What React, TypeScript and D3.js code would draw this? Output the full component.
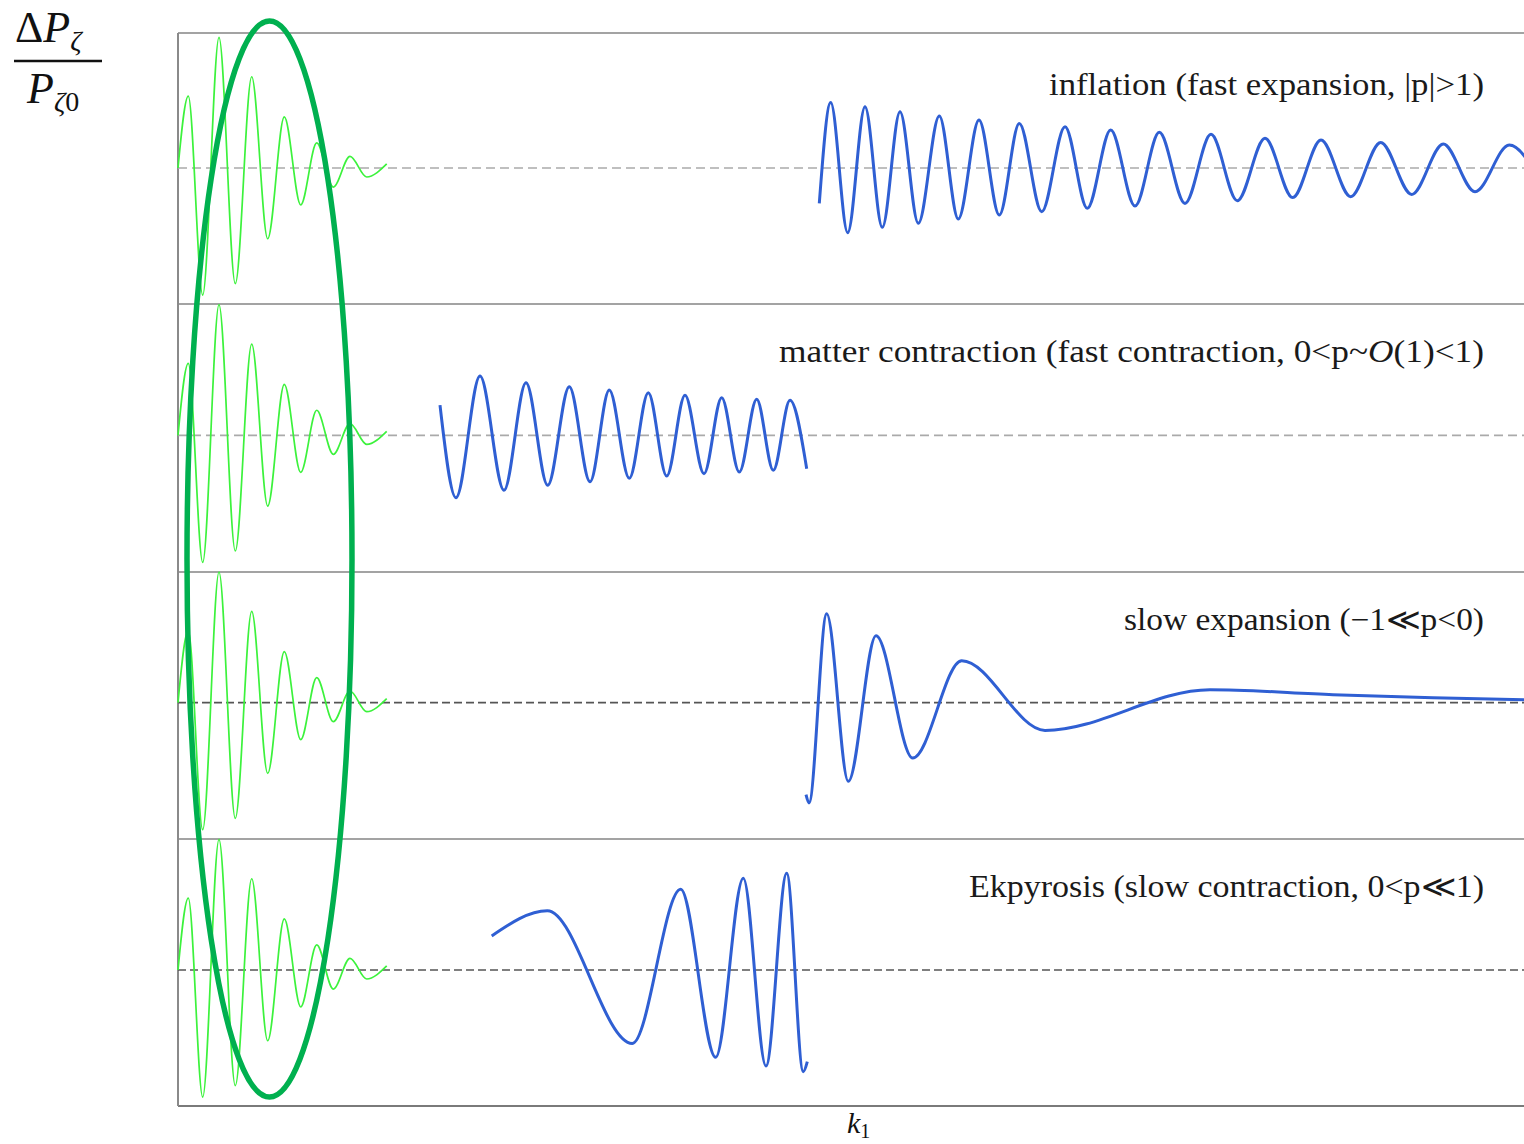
import * as d3 from 'd3'

// panel captions, top to bottom
const panelLabels = [
  'inflation (fast expansion, |p|>1)',
  'matter contraction (fast contraction, 0<p~',
  'slow expansion (\u22121\u226Ap<0)',
  'Ekpyrosis (slow contraction, 0<p\u226A1)',
]
const labelWidths = [435, 705, 360, 515]

// green reference oscillation (same in every panel)
const greenK = [0, 1.03, 2.47, 4.1, 5.73, 7.37, 8.97, 10.63, 12.27, 13.87, 15.53, 17.2, 18.87, 20.87]
const greenAmp = [0, 0.537, -0.948, 0.975, -0.863, 0.681, -0.528, 0.381, -0.276, 0.187, -0.142, 0.087, -0.067, 0.03]

// inflation
const inflationK = [64.13, 65.27, 66.97, 68.7, 70.43, 72.2, 74.03, 76.13, 78.03, 80.1, 82.13, 84.13, 86.37, 88.7,
  90.93, 93.27, 95.7, 98.13, 100.7, 103.3, 105.93, 108.7, 111.47, 114.3, 117.27, 120.27, 123.37, 126.53, 129.7,
  133.13, 136.6]
const inflationAmp = [-0.264, 0.488, -0.483, 0.457, -0.443, 0.42, -0.413, 0.388, -0.381, 0.358, -0.351, 0.333,
  -0.326, 0.308, -0.301, 0.284, -0.284, 0.266, -0.264, 0.251, -0.244, 0.222, -0.221, 0.209, -0.214, 0.191,
  -0.197, 0.179, -0.177, 0.172, -0.17]

// matter contraction
const matterK = [26.2, 27.8, 30.2, 32.6, 34.8, 36.97, 39.13, 41.2, 43.13, 45.13, 47.03, 48.87, 50.7, 52.6,
  54.37, 56.13, 57.87, 59.53, 61.2, 62.87]
const matterAmp = [0.226, -0.465, 0.442, -0.41, 0.393, -0.373, 0.363, -0.346, 0.338, -0.321, 0.318, -0.304,
  0.299, -0.286, 0.281, -0.274, 0.269, -0.261, 0.261, -0.249]

// slow expansion
const slowK = [62.8, 63.1, 64.87, 67.03, 69.8, 73.47, 78.37, 86.7, 103.2, 115.5, 125.5, 134.6]
const slowAmp = [-0.687, -0.748, 0.664, -0.587, 0.5, -0.413, 0.313, -0.207, 0.097, 0.06, 0.037, 0.022]

// ekpyrosis
const ekpyK = [31.37, 36.93, 45.43, 50.27, 53.77, 56.53, 58.8, 60.87, 62.53, 62.93]
const ekpyAmp = [0.254, 0.442, -0.548, 0.602, -0.652, 0.684, -0.717, 0.722, -0.759, -0.684]

const blueSeries = [
  [inflationK, inflationAmp],
  [matterK, matterAmp],
  [slowK, slowAmp],
  [ekpyK, ekpyAmp],
]

const W = 1524
const H = 1144
const left = 178
const bottom = 1106

export default function App() {
  const x = d3.scaleLinear().domain([0, 134.6]).range([left, W])
  // panel borders and zero lines
  const border = d3.scaleLinear().domain([0, 1, 2, 3, 4]).range([33, 304, 572, 839, bottom])
  const zero = d3.scaleLinear().domain([0, 3]).range([168, 970])
  const half = 134

  const lineFor = (i: number) => {
    const y = d3.scaleLinear().domain([-1, 1]).range([zero(i) + half, zero(i) - half])
    return d3.line<[number, number]>()
      .x(d => x(d[0]))
      .y(d => y(d[1]))
      .curve(d3.curveMonotoneX)
  }

  const pairs = (ks: number[], vs: number[]) => ks.map((k, j) => [k, vs[j]] as [number, number])
  const green = pairs(greenK, greenAmp)

  const dashColors = ['#aaa', '#aaa', '#555', '#555']
  const dashArrays = ['9,5', '9,5', '8,4', '8,4']

  const serif = '"Liberation Serif", "DejaVu Serif", serif'

  return (
    <div style={{ position: 'absolute', left: 0, top: 0 }}>
      <svg width={W} height={H} style={{ display: 'block', background: '#fff' }}>
        {/* frame */}
        {[0, 1, 2, 3].map(i => (
          <line key={'sep' + i} x1={left} x2={W} y1={border(i)} y2={border(i)} stroke="#a3a3a3" strokeWidth={2} />
        ))}
        <line x1={left} x2={W} y1={bottom} y2={bottom} stroke="#7a7a7a" strokeWidth={2} />
        <line x1={left} x2={left} y1={border(0)} y2={bottom} stroke="#8a8a8a" strokeWidth={2} />

        {[0, 1, 2, 3].map(i => (
          <g key={'p' + i}>
            <line x1={left} x2={W} y1={zero(i)} y2={zero(i)}
              stroke={dashColors[i]} strokeWidth={1.6} strokeDasharray={dashArrays[i]} />
            <path d={lineFor(i)(green) || ''} fill="none" stroke="#3cf23c" strokeWidth={1.7} />
            <path d={lineFor(i)(pairs(blueSeries[i][0], blueSeries[i][1])) || ''} fill="none"
              stroke="#2f5fd3" strokeWidth={3} />
            <text x={1484} y={zero(i) - 73} textAnchor="end" fontFamily={serif}
              fontSize={31} fill="#1a1a1a" textLength={labelWidths[i]} lengthAdjust="spacingAndGlyphs">
              {panelLabels[i]}
              {i === 1 && <tspan fontStyle="italic">O</tspan>}
              {i === 1 && <tspan>(1)&lt;1)</tspan>}
            </text>
          </g>
        ))}

        {/* highlight ellipse */}
        <ellipse cx={x(9.15)} cy={559} rx={82.5} ry={538} fill="none" stroke="#00b04f" strokeWidth={5.5} />

        {/* y label: ΔPζ / Pζ0 */}
        <g fontFamily={serif} fill="#111">
          <text x={15} y={42} fontSize={44}>
            <tspan>Δ</tspan>
            <tspan fontStyle="italic">P</tspan>
            <tspan fontStyle="italic" fontSize={28} dy={8}>ζ</tspan>
          </text>
          <line x1={14} x2={102} y1={61} y2={61} stroke="#111" strokeWidth={2.5} />
          <text x={27} y={103} fontSize={44}>
            <tspan fontStyle="italic">P</tspan>
            <tspan fontStyle="italic" fontSize={28} dy={8}>ζ</tspan>
            <tspan fontSize={28}>0</tspan>
          </text>
        </g>

        {/* x label */}
        <text x={847} y={1133} fontFamily={serif} fontSize={30} fill="#111">
          <tspan fontStyle="italic">k</tspan>
          <tspan fontSize={20} dy={5}>1</tspan>
        </text>
      </svg>
    </div>
  )
}
